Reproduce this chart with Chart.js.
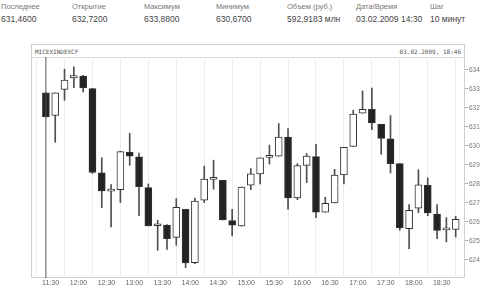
<!DOCTYPE html>
<html>
<head>
<meta charset="utf-8">
<script src="https://cdn.jsdelivr.net/npm/chart.js@4"></script>
<style>
    body { margin: 0; width: 480px; height: 288px; background: #fff; font-family: "Liberation Sans", Arial, sans-serif; overflow: hidden; position: relative; }
    .hdr { position: absolute; white-space: nowrap; }
    .hdr .lbl { font-size: 7.5px; color: #777; position: absolute; top: 2px; left: 0; }
    .hdr .val { font-size: 8.5px; color: #444; position: absolute; top: 14px; left: 0; }
    #box { position: absolute; left: 31px; top: 44px; width: 434px; height: 234px; box-sizing: border-box; border: 1px solid #cfcfcf; }
    #titlebar { position: absolute; left: 0; top: 0; right: 0; height: 13px; box-sizing: border-box; border-bottom: 1px solid #dcdcdc; font-family: "DejaVu Sans Mono", monospace; font-size: 6px; color: #555; }
    #titlebar .l { position: absolute; left: 3px; top: 3px; }
    #titlebar .r { position: absolute; right: 3px; top: 3px; }
    #wrap { position: absolute; left: 0; top: 44px; width: 480px; height: 244px; }
</style>
</head>
<body>
<div id="header"></div>
<div id="box">
    <div id="titlebar"><span class="l">MICEXINDEXCF</span><span class="r">03.02.2009, 18:46</span></div>
</div>
<div id="wrap"><canvas id="candleChart" width="480" height="244"></canvas></div>
<script>
const headerLabels = ['Последнее', 'Открытие', 'Максимум', 'Минимум', 'Объем (руб.)', 'Дата/Время', 'Шаг'];
const headerValues = ['631,4600', '632,7200', '633,8800', '630,6700', '592,9183 млн', '03.02.2009 14:30', '10 минут'];

// 10-minute bars, start time of each bar
const barTimes = [
    '11:20', '11:30', '11:40', '11:50', '12:00', '12:10', '12:20', '12:30', '12:40', '12:50',
    '13:00', '13:10', '13:20', '13:30', '13:40', '13:50', '14:00', '14:10', '14:20', '14:30',
    '14:40', '14:50', '15:00', '15:10', '15:20', '15:30', '15:40', '15:50', '16:00', '16:10',
    '16:20', '16:30', '16:40', '16:50', '17:00', '17:10', '17:20', '17:30', '17:40', '17:50',
    '18:00', '18:10', '18:20', '18:30', '18:40'
];
const openPrices = [
    632.79, 631.60, 632.98, 633.58, 633.68, 633.02, 628.58, 627.62, 627.70, 629.68,
    629.42, 627.81, 625.80, 625.84, 625.19, 626.67, 623.86, 627.14, 628.24, 628.19,
    626.07, 625.79, 627.93, 628.53, 629.40, 629.46, 630.46, 627.26, 628.98, 629.44,
    626.51, 627.00, 628.47, 629.98, 631.72, 631.93, 631.14, 630.37, 629.07, 625.65,
    626.72, 627.93, 626.42, 625.58, 625.60
];
const highPrices = [
    632.79, 632.79, 634.04, 634.16, 633.72, 633.02, 629.38, 627.96, 629.72, 630.67,
    629.63, 628.00, 626.09, 625.86, 627.23, 626.67, 627.25, 628.93, 629.25, 628.19,
    626.67, 627.84, 628.81, 629.37, 630.04, 631.18, 630.91, 629.07, 629.60, 630.09,
    627.30, 628.77, 629.93, 631.88, 632.89, 633.05, 631.14, 631.60, 629.07, 626.91,
    628.75, 628.32, 626.91, 626.23, 626.30
];
const lowPrices = [
    631.53, 630.19, 632.40, 633.07, 632.84, 628.55, 626.75, 625.74, 627.02, 628.98,
    626.33, 625.79, 624.51, 624.56, 624.77, 623.60, 623.80, 627.02, 627.72, 626.10,
    625.26, 625.77, 627.70, 628.00, 629.05, 629.46, 626.67, 627.17, 628.07, 626.23,
    626.51, 627.00, 628.00, 629.98, 631.72, 630.86, 629.56, 628.58, 625.56, 624.60,
    626.49, 626.33, 625.12, 624.95, 625.21
];
const closePrices = [
    631.53, 632.79, 633.46, 633.70, 633.05, 628.60, 627.63, 627.72, 629.70, 629.46,
    627.86, 625.79, 625.82, 625.12, 626.77, 623.84, 627.10, 628.25, 628.26, 626.10,
    625.83, 627.84, 628.53, 629.37, 629.44, 630.46, 627.26, 628.96, 629.47, 626.51,
    626.98, 628.46, 629.93, 631.68, 631.93, 631.21, 630.40, 629.07, 625.68, 626.61,
    627.95, 626.47, 625.56, 625.60, 626.14
];
const xTickLabels = ['11:30', '12:00', '12:30', '13:00', '13:30', '14:00', '14:30', '15:00', '15:30', '16:00', '16:30', '17:00', '17:30', '18:00', '18:30'];
const yTickValues = [624, 625, 626, 627, 628, 629, 630, 631, 632, 633, 634];
const cursorTime = '11:20';

const X_MIN = '11:09', X_MAX = '18:55';
const Y_MIN = 623.05, Y_MAX = 634.68;

function toMin(t) {
    const p = t.split(':');
    return parseInt(p[0]) * 60 + parseInt(p[1]);
}
function fmtMin(m) {
    const h = Math.floor(m / 60), mm = m % 60;
    return h + ':' + (mm < 10 ? '0' : '') + mm;
}

// header
const header = document.getElementById('header');
const colX = [1, 72, 144, 216, 287, 356, 430];
headerLabels.forEach((lbl, i) => {
    const d = document.createElement('div');
    d.className = 'hdr';
    d.style.left = colX[i] + 'px';
    d.innerHTML = `<span class="lbl">${lbl}</span><span class="val">${headerValues[i]}</span>`;
    header.appendChild(d);
});

const centers = barTimes.map(t => toMin(t) + 5);
const isUp = closePrices.map((c, i) => c >= openPrices[i]);
const cursorX = toMin(cursorTime) + 5;

const ctx = document.getElementById('candleChart').getContext('2d');
new Chart(ctx, {
    type: 'bar',
    data: {
        datasets: [
            {
                type: 'line',
                data: [{ x: cursorX, y: Y_MIN }, { x: cursorX, y: Y_MAX }],
                borderColor: '#555',
                borderWidth: 1,
                pointRadius: 0,
                order: 0
            },
            {
                label: 'body',
                data: centers.map((x, i) => ({ x: x, y: [openPrices[i], closePrices[i]] })),
                backgroundColor: isUp.map(u => u ? '#ffffff' : '#232323'),
                borderColor: '#333',
                borderWidth: 1,
                borderSkipped: false,
                barThickness: 7,
                minBarLength: 2,
                grouped: false,
                order: 1
            },
            {
                label: 'wick',
                data: centers.map((x, i) => ({ x: x, y: [lowPrices[i], highPrices[i]] })),
                backgroundColor: '#505050',
                borderWidth: 0,
                barThickness: 1,
                grouped: false,
                order: 2
            }
        ]
    },
    options: {
        responsive: false,
        animation: false,
        layout: { padding: { left: 31, right: 0, top: 13, bottom: 0 } },
        plugins: {
            legend: { display: false },
            tooltip: { enabled: false }
        },
        scales: {
            x: {
                type: 'linear',
                offset: false,
                min: toMin(X_MIN),
                max: toMin(X_MAX),
                afterBuildTicks: scale => { scale.ticks = xTickLabels.map(t => ({ value: toMin(t) })); },
                afterFit: scale => { scale.height = 10; },
                ticks: {
                    color: '#666',
                    font: { family: 'Liberation Sans', size: 7 },
                    padding: 1,
                    maxRotation: 0,
                    autoSkip: false,
                    callback: v => fmtMin(v)
                },
                grid: { color: '#ececec', drawTicks: false },
                border: { display: false }
            },
            y: {
                position: 'right',
                min: Y_MIN,
                max: Y_MAX,
                afterBuildTicks: scale => { scale.ticks = yTickValues.map(v => ({ value: v })); },
                afterFit: scale => { scale.width = 15; },
                ticks: {
                    color: '#777',
                    font: { family: 'Liberation Sans', size: 6.5 },
                    padding: 1
                },
                grid: { drawOnChartArea: false, drawTicks: true, tickLength: 3, color: '#aaa' },
                border: { display: false }
            }
        }
    }
});
</script>
</body>
</html>
